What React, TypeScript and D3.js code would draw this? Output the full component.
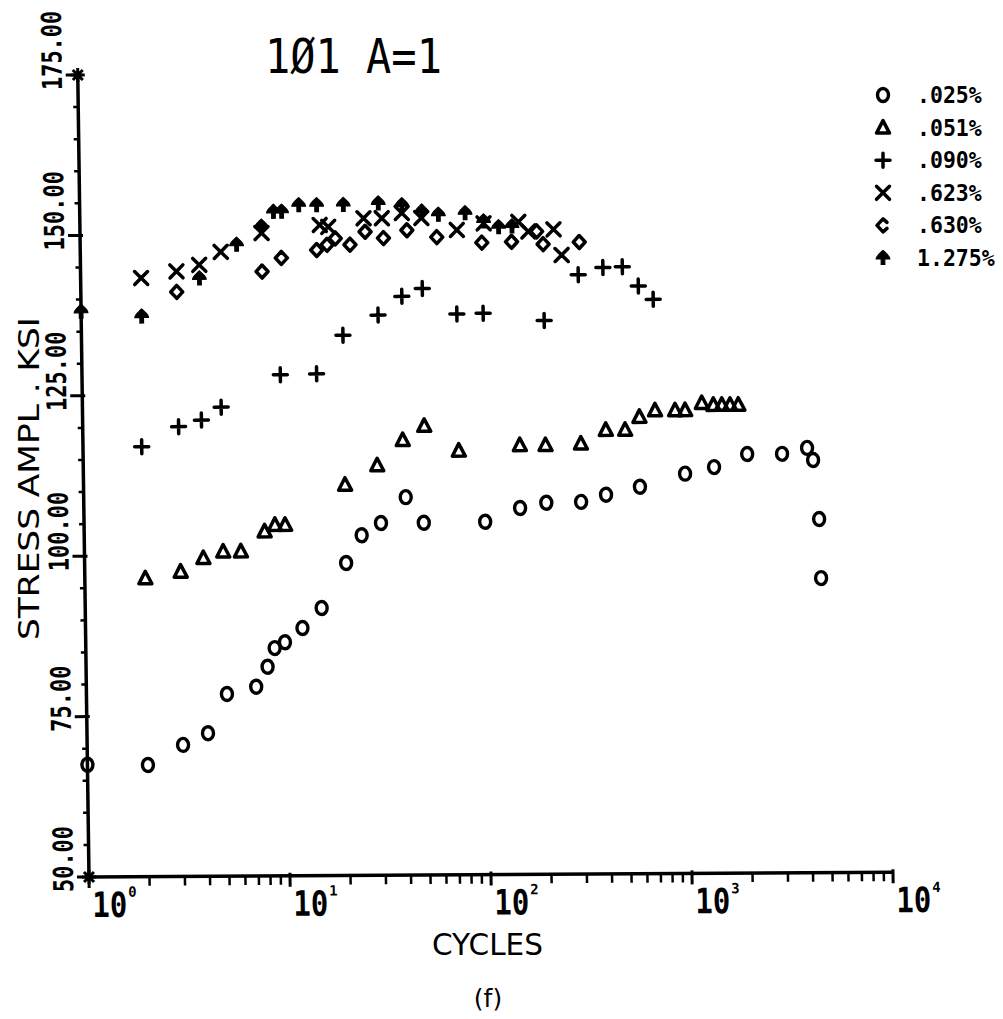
import React from "react";
import * as d3 from "d3";

const W = 1003;
const H = 1019;

// ---- data (cycles, stress amplitude ksi) ----
const series025: [number, number][] = [
  [1, 67.5], [2, 67.4], [3, 70.5], [4, 72.3], [5, 78.4], [7, 79.5], [8, 82.6], [8.7, 85.5],
  [9.8, 86.4], [12, 88.6], [15, 91.7], [20, 98.7], [24, 103.0], [30, 104.9], [40, 108.9],
  [49, 104.9], [99, 105.0], [148, 107.1], [200, 107.9], [298, 108.0], [397, 109.1], [586, 110.3],
  [985, 112.3], [1374, 113.3], [2012, 115.3], [3000, 115.3], [4000, 116.2], [4276, 114.3],
  [4540, 105.1], [4600, 95.9],
];
const series051: [number, number][] = [
  [2, 96.5], [3, 97.5], [3.9, 99.6], [4.9, 100.6], [6, 100.6], [7.9, 103.7], [8.9, 104.7],
  [10, 104.7], [20, 110.9], [29, 113.9], [39, 117.8], [50, 120.0], [74, 116.1], [149, 116.9],
  [200, 116.9], [300, 117.1], [400, 119.2], [499, 119.2], [589, 121.2], [705, 122.2],
  [887, 122.2], [995, 122.2], [1206, 123.3], [1377, 123.0], [1517, 123.0], [1667, 123.0],
  [1832, 123.0],
];
const series090: [number, number][] = [
  [1.96, 117.0], [3, 120.1], [3.9, 121.1], [4.9, 123.1], [9.7, 128.1], [14.7, 128.2],
  [20, 134.2], [30, 137.3], [39.5, 140.2], [50, 141.4], [74, 137.4], [100, 137.5],
  [201, 136.3], [299, 143.4], [397, 144.5], [496, 144.6], [594, 141.6], [703, 139.5],
];
const series623: [number, number][] = [
  [2, 143.3], [3, 144.3], [3.9, 145.3], [5, 147.3], [8, 150.2], [15.6, 151.4], [17.2, 151.1],
  [25.8, 152.4], [31.8, 152.4], [40, 153.2], [50, 152.4], [75, 150.5], [102, 151.5],
  [152, 151.7], [170, 150.2], [227, 150.5], [248, 146.5],
];
const series630: [number, number][] = [
  [3, 141.1], [8, 144.2], [10, 146.3], [15, 147.5], [16.9, 148.3], [18.6, 149.3], [22, 148.3],
  [26.2, 150.3], [32.3, 149.3], [42.3, 150.5], [59.5, 149.4], [99.6, 148.5], [140, 148.6],
  [187, 150.2], [201, 148.2], [304, 148.5],
];
const series1275: [number, number][] = [
  [1, 138.1], [2, 137.3], [3.9, 143.2], [6, 148.4], [8, 151.2], [9.2, 153.5], [10.1, 153.5],
  [12.3, 154.5], [15.1, 154.5], [20.5, 154.5], [30.6, 154.7], [40.1, 154.4], [50.3, 153.4],
  [60.8, 152.9], [82.6, 153.1], [102, 151.8], [121, 150.9], [141, 151.0],
];

const legendLabels = [".025%", ".051%", ".090%", ".623%", ".630%", "1.275%"];
const shapeNames = ["circle", "triangle", "plus", "times", "diamond", "spade"];
const yTickValues = [50, 75, 100, 125, 150, 175];
const yTickLabels = ["50.00", "75.00", "100.00", "125.00", "150.00", "175.00"];
const xDecades = [0, 1, 2, 3, 4];
const titleText = "1\u00D81 A=1";
const xTitle = "CYCLES";
const yTitle = "STRESS AMPL . KSI";
const caption = "(f)";

const allSeries = [series025, series051, series090, series623, series630, series1275];

// ---- scales (plot frame origin at bottom-left of axes) ----
const xs = d3.scaleLog().domain([1, 1e4]).range([0, 804]);
const ys = d3.scaleLinear().domain([50, 175]).range([0, -802]);

const markerPaths: Record<string, string> = {
  triangle: "M0,-7L6.5,5.5L-6.5,5.5Z",
  plus: "M-7,0H7M0,-7V7",
  times: "M-6.5,-6.5L6.5,6.5M-6.5,6.5L6.5,-6.5",
  diamond: "M0,-6.5L6,0L0,6.5L-6,0Z",
  legendDiamond: "M4,-3L0,-6.5L-6,0L0,6.5L4,3",
  spade:
    "M0,-7.5C3,-4.5 6.8,-2 6.8,1L1.8,1L1.8,6.5L-1.8,6.5L-1.8,1L-6.8,1C-6.8,-2 -3,-4.5 0,-7.5Z",
};

function Marker({ shape, legend }: { shape: string; legend?: boolean }) {
  if (shape === "circle") {
    return <ellipse rx={5.5} ry={6.5} fill="none" stroke="#000" strokeWidth={3.4} />;
  }
  if (shape === "spade") {
    return <path d={markerPaths.spade} fill="#000" stroke="#000" strokeWidth={1.2} />;
  }
  const key = shape === "diamond" && legend ? "legendDiamond" : shape;
  return (
    <path
      d={markerPaths[key]}
      fill="none"
      stroke="#000"
      strokeWidth={3.5}
      strokeLinejoin="round"
      strokeLinecap="round"
    />
  );
}

export default function App() {
  const yMinor = d3.range(50, 176, 5);
  const xMinor: number[] = [];
  for (let k = 0; k < 4; k++) for (let m = 2; m <= 9; m++) xMinor.push(m * Math.pow(10, k));

  const legendX = 883;
  const legendY0 = 95;
  const legendDy = 32.6;

  return (
    <svg
      width={W}
      height={H}
      viewBox={`0 0 ${W} ${H}`}
      style={{ position: "absolute", left: 0, top: 0, background: "#fff" }}
    >
      <rect x={0} y={0} width={W} height={H} fill="#fff" />

      {/* title */}
      <text
        transform="translate(265,73) scale(1,1.14)"
        fontFamily="DejaVu Sans Mono"
        fontSize={42}
        fill="#000"
      >
        {titleText}
      </text>

      {/* y axis title */}
      <text
        transform="translate(39,478.5) rotate(-90)"
        textAnchor="middle"
        fontFamily="DejaVu Sans"
        fontSize={29}
        textLength={323}
        lengthAdjust="spacingAndGlyphs"
        fill="#000"
      >
        {yTitle}
      </text>

      {/* x axis title and caption */}
      <text
        x={432}
        y={955}
        fontFamily="DejaVu Sans"
        fontSize={30}
        textLength={111}
        lengthAdjust="spacingAndGlyphs"
        fill="#000"
      >
        {xTitle}
      </text>
      <text
        x={488}
        y={1007}
        textAnchor="middle"
        fontFamily="DejaVu Sans"
        fontSize={25}
        fill="#000"
      >
        {caption}
      </text>

      {/* plot frame (slightly skewed like the scan) */}
      <g transform="matrix(1,-0.006,0.014,1,89,877)">
        {/* axes lines */}
        <line x1={0} y1={0} x2={xs(1e4)} y2={0} stroke="#000" strokeWidth={3.5} />
        <line x1={0} y1={0} x2={0} y2={ys(175)} stroke="#000" strokeWidth={3.5} />

        {/* y ticks */}
        {yMinor.map((v) => {
          const major = v % 25 === 0;
          return (
            <line
              key={"ym" + v}
              x1={major ? -12 : -5}
              x2={major ? 3 : 0}
              y1={ys(v)}
              y2={ys(v)}
              stroke="#000"
              strokeWidth={major ? 3 : 2.5}
            />
          );
        })}
        {yTickValues.map((v, i) => (
          <text
            key={"yl" + v}
            transform={`translate(-16,${ys(v) + 15}) rotate(-90) scale(1,1.25)`}
            fontFamily="DejaVu Sans Mono"
            fontWeight="bold"
            fontSize={22}
            fill="#000"
          >
            {yTickLabels[i]}
          </text>
        ))}

        {/* x ticks */}
        {xMinor.map((n) => (
          <line
            key={"xm" + n}
            x1={xs(n)}
            x2={xs(n)}
            y1={0}
            y2={9}
            stroke="#000"
            strokeWidth={2.5}
          />
        ))}
        {xDecades.map((k) => (
          <g key={"xd" + k}>
            <line
              x1={xs(Math.pow(10, k))}
              x2={xs(Math.pow(10, k))}
              y1={-3}
              y2={11}
              stroke="#000"
              strokeWidth={3}
            />
            <text
              transform={`translate(${xs(Math.pow(10, k)) + 3},40) scale(1,1.2)`}
              fontFamily="DejaVu Sans Mono"
              fontWeight="bold"
              fontSize={29}
              fill="#000"
            >
              10
            </text>
            <text
              x={xs(Math.pow(10, k)) + 39}
              y={20}
              fontFamily="DejaVu Sans Mono"
              fontWeight="bold"
              fontSize={14}
              fill="#000"
            >
              {String(k)}
            </text>
          </g>
        ))}

        {/* axis end asterisks */}
        {[ys(175), ys(50)].map((yy, i) => (
          <path
            key={"ast" + i}
            transform={`translate(0,${yy})`}
            d="M-7,0H7M0,-7V7M-5,-5L5,5M-5,5L5,-5"
            stroke="#000"
            strokeWidth={3}
            fill="none"
          />
        ))}

        {/* data markers */}
        {allSeries.map((s, si) =>
          s.map(([n, v], pi) => (
            <g key={`p${si}-${pi}`} transform={`translate(${xs(n)},${ys(v)})`}>
              <Marker shape={shapeNames[si]} />
            </g>
          ))
        )}
      </g>

      {/* legend */}
      {legendLabels.map((lab, i) => (
        <g key={"lg" + i} transform={`translate(0,${legendY0 + i * legendDy})`}>
          <g transform={`translate(${legendX},0)`}>
            <Marker shape={shapeNames[i]} legend />
          </g>
          <text
            transform="translate(917,8) scale(1,1.1)"
            fontFamily="DejaVu Sans Mono"
            fontWeight="bold"
            fontSize={21.5}
            fill="#000"
          >
            {lab}
          </text>
        </g>
      ))}
    </svg>
  );
}
